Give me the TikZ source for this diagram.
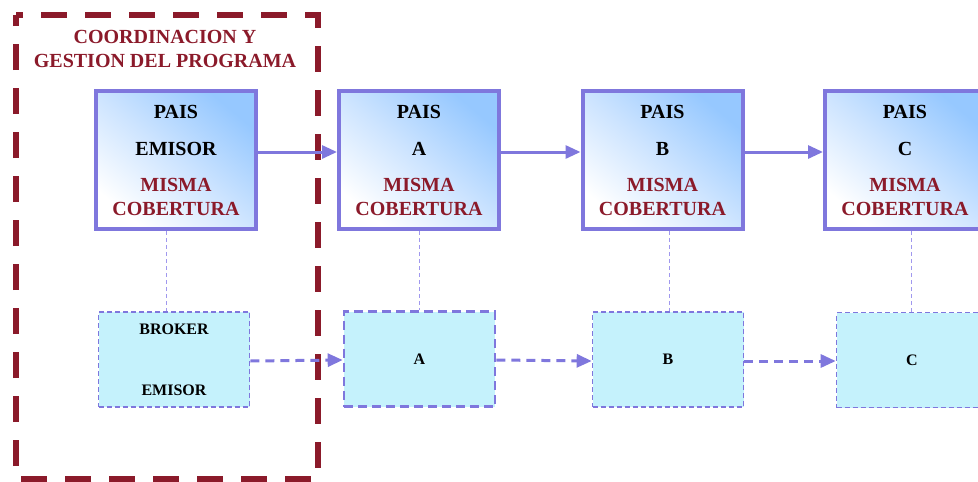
\documentclass[tikz,border=0pt]{standalone}
\usepackage{fontspec}
\setmainfont{Liberation Serif}
\usetikzlibrary{arrows.meta}
\definecolor{purp}{RGB}{127,119,221}
\definecolor{lpurp}{RGB}{160,152,238}
\definecolor{dred}{RGB}{139,26,42}
\definecolor{lblue}{RGB}{150,200,255}
\definecolor{mblue}{RGB}{205,228,255}
\definecolor{cyanf}{RGB}{197,242,252}
\tikzset{
  paisbox/.style={draw=purp, line width=4pt, minimum width=160pt, minimum height=138pt,
    inner sep=0pt, align=center, top color=lblue, bottom color=white, middle color=mblue, shading angle=-40,
    font=\bfseries\fontsize{20}{24}\selectfont},
  brokbox/.style={draw=purp, fill=cyanf, dash pattern=on 5pt off 3pt, line width=1.6pt,
    minimum width=151pt, minimum height=95pt, inner sep=0pt, align=center,
    font=\bfseries\fontsize{16}{18}\selectfont},
  brokboxthick/.style={brokbox, line width=2.6pt, dash pattern=on 9pt off 5pt},
  flow/.style={draw=purp, line width=3pt, -{Triangle[length=15pt,width=13pt]}},
  dflow/.style={flow, dash pattern=on 9pt off 6pt},
  vlink/.style={draw=lpurp, line width=1pt, dash pattern=on 4pt off 3pt},
}
\begin{document}
\begin{tikzpicture}[x=1pt,y=-1pt]
\useasboundingbox (0,0) rectangle (978,482);
% frame
\draw[dred, line width=6pt, dash pattern=on 26pt off 18pt, dash phase=19pt] (16,15) -- (318,15) -- (318,479) -- (16,479) -- cycle;
\node[text=dred, font=\bfseries\fontsize{20}{24}\selectfont, align=center] (title) at (165,49)
  {COORDINACION Y\\GESTION DEL PROGRAMA};
% top boxes
\node[paisbox] (pe) at (176,160) {PAIS\\[13pt]EMISOR\\[12pt]\textcolor{dred}{MISMA}\\[0pt]\textcolor{dred}{COBERTURA}};
\node[paisbox] (pa) at (419,160) {PAIS\\[13pt]A\\[12pt]\textcolor{dred}{MISMA}\\[0pt]\textcolor{dred}{COBERTURA}};
\node[paisbox] (pb) at (662.5,160) {PAIS\\[13pt]B\\[12pt]\textcolor{dred}{MISMA}\\[0pt]\textcolor{dred}{COBERTURA}};
\node[paisbox] (pc) at (905,160) {PAIS\\[13pt]C\\[12pt]\textcolor{dred}{MISMA}\\[0pt]\textcolor{dred}{COBERTURA}};
% bottom boxes
\node[brokbox] (be) at (174,359.5) {BROKER\\[43pt]EMISOR};
\node[brokboxthick] (ba) at (419.5,359) {A};
\node[brokbox] (bb) at (668,359.5) {B};
\node[brokbox] (bc) at (912,360) {C};
% vertical links
\draw[vlink] ([xshift=-10pt]pe.south) -- ([xshift=-8pt]be.north);
\draw[vlink] (pa.south) -- ([xshift=-0.5pt]ba.north);
\draw[vlink] ([xshift=6.5pt]pb.south) -- ([xshift=1pt]bb.north);
\draw[vlink] ([xshift=6pt]pc.south) -- ([xshift=-1pt]bc.north);
% arrows
\draw[flow] ([yshift=8pt]pe.east) -- ([yshift=8pt]pa.west);
\draw[flow] ([yshift=8pt]pa.east) -- ([yshift=8pt]pb.west);
\draw[flow] ([yshift=8pt]pb.east) -- ([yshift=8pt]pc.west);
\draw[dflow] ([yshift=-1.5pt]be.east) -- ([yshift=-1pt]ba.west);
\draw[dflow] ([yshift=-1pt]ba.east) -- ([yshift=-1.5pt]bb.west);
\draw[dflow] ([yshift=-1.5pt]bb.east) -- ([yshift=-1pt]bc.west);
\end{tikzpicture}
\end{document}
